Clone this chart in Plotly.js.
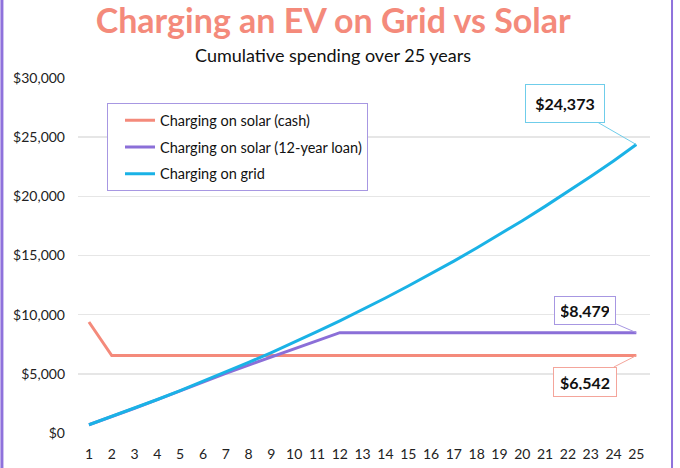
<!DOCTYPE html>
<html>
<head>
<meta charset="utf-8">
<script src="https://cdn.plot.ly/plotly-3.0.1.min.js"></script>
<style>html,body{margin:0;padding:0;background:#fff;}#chart{width:680px;height:468px;}</style>
</head>
<body>
<div id="chart"></div>
<script>
const years = [1,2,3,4,5,6,7,8,9,10,11,12,13,14,15,16,17,18,19,20,21,22,23,24,25];
const solarCash = [9380,6542,6542,6542,6542,6542,6542,6542,6542,6542,6542,6542,6542,6542,6542,6542,6542,6542,6542,6542,6542,6542,6542,6542,6542];
const solarLoan = [700,1380,2090,2820,3570,4320,5040,5740,6430,7110,7800,8479,8479,8479,8479,8479,8479,8479,8479,8479,8479,8479,8479,8479,8479];
const grid = [700,1390,2100,2830,3580,4350,5140,5960,6800,7670,8560,9480,10430,11410,12420,13460,14530,15630,16770,17940,19150,20390,21670,22990,24373];
const seriesNames = ['Charging on solar (cash)','Charging on solar (12-year loan)','Charging on grid'];
const colors = ['#f48a7b','#8b6fd8','#1ab2e6'];
const calloutBorders = ['#f4a59b','#a797e2','#6fcdea'];

const allSeries = [solarCash, solarLoan, grid];
const traces = allSeries.map((vals, i) => ({
  x: years, y: vals, type: 'scatter', mode: 'lines',
  name: seriesNames[i], legendgroup: 'g' + i,
  line: {color: colors[i], width: 3}, hoverinfo: 'skip'
}));

const last = years.length - 1;
const fmt = v => '$' + v.toLocaleString('en-US');
const offsets = [[-51, 26], [-51, -22], [-71, -41]];
const boxSizes = [[50, 16], [48, 15], [66, 25]];
const annotations = allSeries.map((vals, i) => ({
  x: years[last], y: vals[last], xref: 'x', yref: 'y',
  text: '<b>' + fmt(vals[last]) + '</b>',
  showarrow: true, arrowhead: 0, arrowwidth: 1, arrowcolor: calloutBorders[i],
  ax: offsets[i][0], ay: offsets[i][1],
  width: boxSizes[i][0], height: boxSizes[i][1],
  bgcolor: '#ffffff', bordercolor: calloutBorders[i], borderwidth: 1, borderpad: 6,
  font: {family: 'Lato, sans-serif', size: 16, color: '#111'}
}));
annotations.push({
  text: 'Cumulative spending over 25 years', xref: 'paper', yref: 'paper',
  x: 0.5 - 31/572, xanchor: 'center', y: (433 - 55) / 355, yanchor: 'middle', showarrow: false,
  font: {family: 'Lato, sans-serif', size: 18, color: '#111'}
});

const layout = {
  width: 680, height: 468,
  margin: {l: 78, r: 30, t: 78, b: 35},
  paper_bgcolor: '#ffffff', plot_bgcolor: '#ffffff',
  title: {
    text: 'Charging an EV on Grid vs Solar',
    x: 0.49, xanchor: 'center', y: 0.954, yanchor: 'middle',
    font: {family: 'Lato, sans-serif', size: 34, color: '#f48a7b', weight: 'bold'}
  },
  showlegend: true,
  legend: {
    x: 0.0507, y: 0.929, xanchor: 'left', yanchor: 'top',
    bgcolor: '#ffffff', bordercolor: '#a797e2', borderwidth: 1,
    font: {family: 'Lato, sans-serif', size: 14.5, color: '#111'},
    traceorder: 'grouped', tracegroupgap: 5, indentation: 12
  },
  xaxis: {
    range: [0.52, 25.6], tickmode: 'array', tickvals: years,
    showgrid: false, zeroline: false, showline: false, ticks: '', ticklabelstandoff: 11,
    tickfont: {family: 'Lato, sans-serif', size: 14, color: '#222'}
  },
  yaxis: {
    range: [0, 30000], dtick: 5000, tickprefix: '$', tickformat: ',d',
    showgrid: true, gridcolor: '#e6e6e6', gridwidth: 1.5,
    zeroline: false, showline: false, ticks: '', ticklabelstandoff: 12,
    tickfont: {family: 'Lato, sans-serif', size: 14, color: '#222'}
  },
  annotations: annotations,
  shapes: [
    {type: 'line', xref: 'paper', yref: 'paper', x0: -0.133, x1: -0.133, y0: -0.1, y1: 1.23, line: {color: '#8f72dc', width: 3}},
    {type: 'line', xref: 'paper', yref: 'paper', x0: 1.0385, x1: 1.0385, y0: -0.1, y1: 1.23, line: {color: '#8f72dc', width: 2}}
  ]
};

Plotly.newPlot('chart', traces, layout, {displayModeBar: false, staticPlot: true});
</script>
</body>
</html>
